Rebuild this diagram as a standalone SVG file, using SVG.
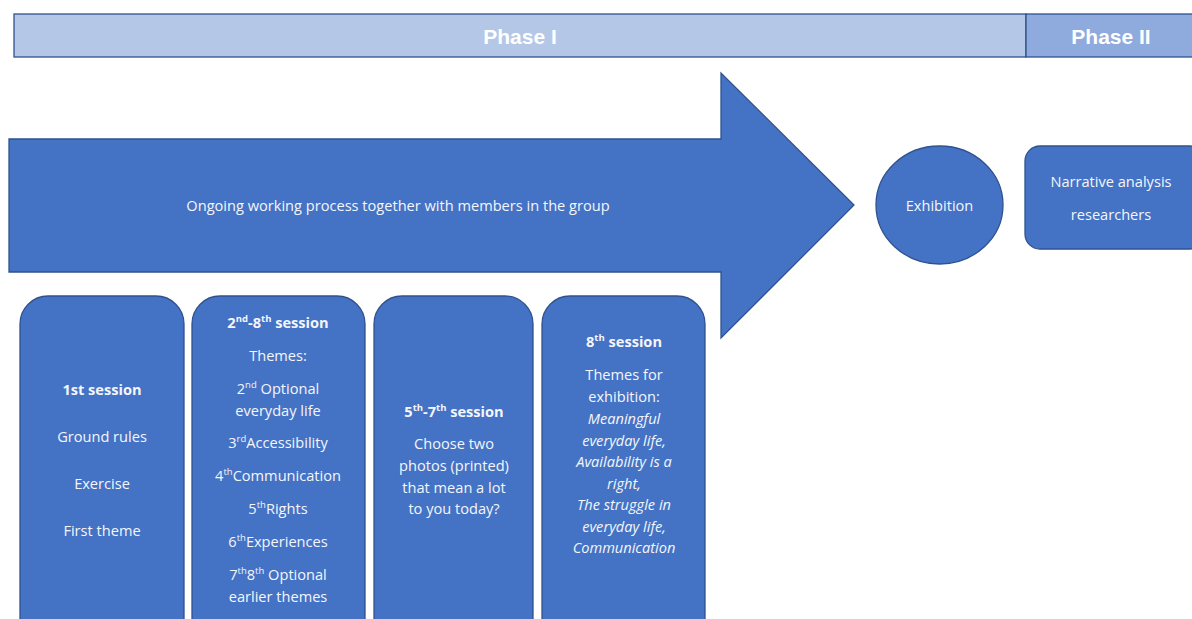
<svg xmlns="http://www.w3.org/2000/svg" width="1192" height="619" viewBox="0 0 1192 619">
<style>
.shape{fill:#4472C4;stroke:#2F528F;stroke-width:1.3}
.t{font-family:"Open Sans","Liberation Sans",Arial,sans-serif;font-size:14.6px;fill:#F4F6FB;text-anchor:middle}
.b{font-weight:bold}
.i{font-style:italic}
.ph{font-family:"Liberation Sans",Arial,sans-serif;font-size:21px;font-weight:bold;fill:#FFFFFF;text-anchor:middle}
.sup{font-size:9.5px}
</style>
<rect width="1192" height="619" fill="#FFFFFF"/>
<g id="phase-bar">
<rect x="14" y="14" width="1012" height="43" fill="#B4C7E7" stroke="#2F528F" stroke-width="1.3"/>
<rect x="1026" y="14" width="170" height="43" fill="#8FAADC" stroke="#2F528F" stroke-width="1.3"/>
<text class="ph" x="520" y="44">Phase I</text>
<text class="ph" x="1111" y="44">Phase II</text>
</g>
<g id="arrow">
<polygon class="shape" points="9,139 721,139 721,73 854,205 721,338 721,272 9,272"/>
<text class="t" x="398" y="211">Ongoing working process together with members in the group</text>
</g>
<g id="exhibition">
<ellipse class="shape" cx="939.5" cy="205" rx="63.5" ry="59"/>
<text class="t" x="939.5" y="211">Exhibition</text>
</g>
<g id="narrative">
<rect class="shape" x="1025" y="146" width="180" height="103" rx="15"/>
<text class="t" x="1111" y="187">Narrative analysis</text>
<text class="t" x="1111" y="220">researchers</text>
</g>
<g id="session1">
<rect class="shape" x="20" y="296" width="164" height="350" rx="28"/>
<text class="t b" x="102" y="395">1st session</text>
<text class="t" x="102" y="442">Ground rules</text>
<text class="t" x="102" y="489">Exercise</text>
<text class="t" x="102" y="536">First theme</text>
</g>
<g id="session2">
<rect class="shape" x="192" y="296" width="173" height="350" rx="28"/>
<text class="t b" x="278" y="328">2<tspan class="sup" baseline-shift="super">nd</tspan>-8<tspan class="sup" baseline-shift="super">th</tspan> session</text>
<text class="t" x="278" y="361">Themes:</text>
<text class="t" x="278" y="394">2<tspan class="sup" baseline-shift="super">nd</tspan> Optional</text>
<text class="t" x="278" y="416">everyday life</text>
<text class="t" x="278" y="448">3<tspan class="sup" baseline-shift="super">rd</tspan>Accessibility</text>
<text class="t" x="278" y="481">4<tspan class="sup" baseline-shift="super">th</tspan>Communication</text>
<text class="t" x="278" y="514">5<tspan class="sup" baseline-shift="super">th</tspan>Rights</text>
<text class="t" x="278" y="547">6<tspan class="sup" baseline-shift="super">th</tspan>Experiences</text>
<text class="t" x="278" y="580">7<tspan class="sup" baseline-shift="super">th</tspan>8<tspan class="sup" baseline-shift="super">th</tspan> Optional</text>
<text class="t" x="278" y="602">earlier themes</text>
</g>
<g id="session3">
<rect class="shape" x="374" y="296" width="159" height="350" rx="28"/>
<text class="t b" x="454" y="417">5<tspan class="sup" baseline-shift="super">th</tspan>-7<tspan class="sup" baseline-shift="super">th</tspan> session</text>
<text class="t" x="454" y="449">Choose two</text>
<text class="t" x="454" y="471">photos (printed)</text>
<text class="t" x="454" y="493">that mean a lot</text>
<text class="t" x="454" y="514">to you today?</text>
</g>
<g id="session4">
<rect class="shape" x="542" y="296" width="163" height="350" rx="28"/>
<text class="t b" x="624" y="347">8<tspan class="sup" baseline-shift="super">th</tspan> session</text>
<text class="t" x="624" y="380">Themes for</text>
<text class="t" x="624" y="402">exhibition:</text>
<text class="t i" x="624" y="424">Meaningful</text>
<text class="t i" x="624" y="446">everyday life,</text>
<text class="t i" x="624" y="467">Availability is a</text>
<text class="t i" x="624" y="489">right,</text>
<text class="t i" x="624" y="510">The struggle in</text>
<text class="t i" x="624" y="532">everyday life,</text>
<text class="t i" x="624" y="553">Communication</text>
</g>
<g id="connectors"></g>
</svg>
